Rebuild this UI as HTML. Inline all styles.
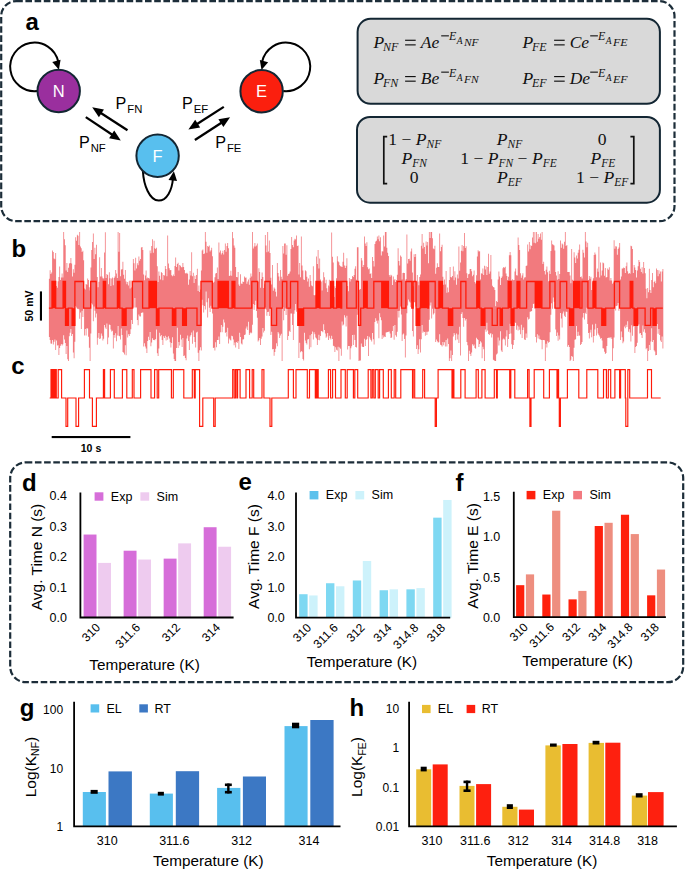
<!DOCTYPE html>
<html><head><meta charset="utf-8"><title>figure</title>
<style>
html,body{margin:0;padding:0;background:#fff;width:685px;height:870px;overflow:hidden;}
svg{display:block;}
text{font-family:"Liberation Sans",sans-serif;}
text.m{font-family:"Liberation Serif",serif;}
</style></head><body>
<svg width="685" height="870" viewBox="0 0 685 870">
<rect x="1.2" y="1.1" width="673.3" height="220.1" rx="15" ry="15" fill="none" stroke="#1c2d39" stroke-width="2.2" stroke-dasharray="6.6 2.6"/>
<rect x="10.2" y="462.4" width="673.0" height="219.80000000000007" rx="15.5" ry="15.5" fill="none" stroke="#1c2d39" stroke-width="2.2" stroke-dasharray="6.6 2.6"/>
<text x="25.5" y="29.8" font-size="24" font-weight="bold" fill="#000">a</text>
<text x="11.6" y="257.2" font-size="24" font-weight="bold" fill="#000">b</text>
<text x="11.2" y="374.2" font-size="24" font-weight="bold" fill="#000">c</text>
<text x="22.0" y="491.1" font-size="24" font-weight="bold" fill="#000">d</text>
<text x="238.6" y="489.9" font-size="24" font-weight="bold" fill="#000">e</text>
<text x="455.6" y="490.8" font-size="24" font-weight="bold" fill="#000">f</text>
<text x="19.8" y="715.6" font-size="24" font-weight="bold" fill="#000">g</text>
<text x="349.4" y="715.5" font-size="24" font-weight="bold" fill="#000">h</text>
<path d="M37.2 91 A24.3 24.3 0 1 1 58.2 61.5" fill="none" stroke="#000" stroke-width="2"/>
<polygon points="58.90,69.80 52.28,62.10 60.56,59.78" fill="#000"/>
<path d="M283.2 91 A24.3 24.3 0 1 0 262.2 61.5" fill="none" stroke="#000" stroke-width="2"/>
<polygon points="261.50,70.00 259.84,59.98 268.12,62.30" fill="#000"/>
<path d="M142.9 171 C143.6 185 149.5 200.6 158.7 200.6 C167 200.6 172 190 172.9 179" fill="none" stroke="#000" stroke-width="2"/>
<polygon points="173.90,171.20 177.05,181.05 168.51,180.02" fill="#000"/>
<circle cx="58.7" cy="91.0" r="21.2" fill="#9a2f9e" stroke="#132633" stroke-width="2"/>
<text x="58.7" y="96.9" font-size="16.5" fill="#fff" text-anchor="middle">N</text>
<circle cx="157.6" cy="155.7" r="21.2" fill="#58bfee" stroke="#132633" stroke-width="2"/>
<text x="157.6" y="161.6" font-size="16.5" fill="#fff" text-anchor="middle">F</text>
<circle cx="261.6" cy="91.2" r="21.2" fill="#fb1f0e" stroke="#132633" stroke-width="2"/>
<text x="261.6" y="97.10000000000001" font-size="16.5" fill="#fff" text-anchor="middle">E</text>
<line x1="127.5" y1="130.3" x2="98.90" y2="111.67" stroke="#000" stroke-width="2.3"/>
<polygon points="92.20,107.30 103.93,109.45 98.91,117.16" fill="#000"/>
<line x1="85.8" y1="117.1" x2="114.15" y2="136.05" stroke="#000" stroke-width="2.3"/>
<polygon points="120.80,140.50 109.10,138.21 114.21,130.56" fill="#000"/>
<line x1="223.8" y1="106.9" x2="195.14" y2="125.20" stroke="#000" stroke-width="2.3"/>
<polygon points="188.40,129.50 195.20,119.70 200.15,127.46" fill="#000"/>
<line x1="194.9" y1="140.0" x2="223.39" y2="121.55" stroke="#000" stroke-width="2.3"/>
<polygon points="230.10,117.20 223.37,127.04 218.37,119.32" fill="#000"/>
<text x="115.6" y="108.7" font-size="16.2" fill="#000">P<tspan font-size="11.3" dx="0.9" dy="4.2">FN</tspan></text>
<text x="79.0" y="147.8" font-size="16.2" fill="#000">P<tspan font-size="11.3" dx="0.9" dy="4.2">NF</tspan></text>
<text x="182.0" y="108.5" font-size="16.2" fill="#000">P<tspan font-size="11.3" dx="0.9" dy="4.2">EF</tspan></text>
<text x="215.2" y="147.8" font-size="16.2" fill="#000">P<tspan font-size="11.3" dx="0.9" dy="4.2">FE</tspan></text>
<rect x="357.6" y="18.8" width="302.3" height="85" rx="13" fill="#d9d9d9" stroke="#132633" stroke-width="2"/>
<rect x="357.0" y="116.9" width="302.9" height="85.8" rx="13" fill="#d9d9d9" stroke="#132633" stroke-width="2"/>
<text x="373.5" y="47.6" font-size="17.5" class="m" font-style="italic" fill="#111">P</text>
<text x="382.9" y="50.5" font-size="12" class="m" font-style="italic" fill="#111">NF</text>
<rect x="405.10" y="39.70" width="10.6" height="1.15" fill="#111"/><rect x="405.10" y="44.30" width="10.6" height="1.15" fill="#111"/>
<text x="420.7" y="47.6" font-size="17.5" class="m" font-style="italic" fill="#111">Ae</text>
<rect x="441.20" y="35.30" width="7.7" height="1.1" fill="#111"/>
<text x="448.9" y="40.2" font-size="12" class="m" font-style="italic" fill="#111">E</text>
<text x="456.7" y="44.4" font-size="9.5" class="m" font-style="italic" fill="#111">A</text>
<text x="464.0" y="46.4" font-size="9.5" textLength="14.6" lengthAdjust="spacingAndGlyphs" class="m" font-style="italic" fill="#111">NF</text>
<text x="373.5" y="83.9" font-size="17.5" class="m" font-style="italic" fill="#111">P</text>
<text x="382.9" y="86.80000000000001" font-size="12" class="m" font-style="italic" fill="#111">FN</text>
<rect x="405.10" y="76.00" width="10.6" height="1.15" fill="#111"/><rect x="405.10" y="80.60" width="10.6" height="1.15" fill="#111"/>
<text x="420.7" y="83.9" font-size="17.5" class="m" font-style="italic" fill="#111">Be</text>
<rect x="441.20" y="71.60" width="7.7" height="1.1" fill="#111"/>
<text x="448.9" y="76.5" font-size="12" class="m" font-style="italic" fill="#111">E</text>
<text x="456.7" y="80.7" font-size="9.5" class="m" font-style="italic" fill="#111">A</text>
<text x="464.0" y="82.7" font-size="9.5" textLength="14.6" lengthAdjust="spacingAndGlyphs" class="m" font-style="italic" fill="#111">FN</text>
<text x="522.5" y="47.6" font-size="17.5" class="m" font-style="italic" fill="#111">P</text>
<text x="531.9" y="50.5" font-size="12" class="m" font-style="italic" fill="#111">FE</text>
<rect x="554.10" y="39.70" width="10.6" height="1.15" fill="#111"/><rect x="554.10" y="44.30" width="10.6" height="1.15" fill="#111"/>
<text x="569.7" y="47.6" font-size="17.5" class="m" font-style="italic" fill="#111">Ce</text>
<rect x="590.20" y="35.30" width="7.7" height="1.1" fill="#111"/>
<text x="597.9" y="40.2" font-size="12" class="m" font-style="italic" fill="#111">E</text>
<text x="605.7" y="44.4" font-size="9.5" class="m" font-style="italic" fill="#111">A</text>
<text x="613.0" y="46.4" font-size="9.5" textLength="14.6" lengthAdjust="spacingAndGlyphs" class="m" font-style="italic" fill="#111">FE</text>
<text x="522.5" y="83.9" font-size="17.5" class="m" font-style="italic" fill="#111">P</text>
<text x="531.9" y="86.80000000000001" font-size="12" class="m" font-style="italic" fill="#111">EF</text>
<rect x="554.10" y="76.00" width="10.6" height="1.15" fill="#111"/><rect x="554.10" y="80.60" width="10.6" height="1.15" fill="#111"/>
<text x="569.7" y="83.9" font-size="17.5" class="m" font-style="italic" fill="#111">De</text>
<rect x="590.20" y="71.60" width="7.7" height="1.1" fill="#111"/>
<text x="597.9" y="76.5" font-size="12" class="m" font-style="italic" fill="#111">E</text>
<text x="605.7" y="80.7" font-size="9.5" class="m" font-style="italic" fill="#111">A</text>
<text x="613.0" y="82.7" font-size="9.5" textLength="14.6" lengthAdjust="spacingAndGlyphs" class="m" font-style="italic" fill="#111">EF</text>
<path d="M387.2 136.6 H383.8 V183.6 H387.2" fill="none" stroke="#111" stroke-width="1.7"/>
<path d="M630.4 136.6 H633.8 V183.6 H630.4" fill="none" stroke="#111" stroke-width="1.7"/>
<text x="388.2" y="145.0" font-size="17.6" class="m" fill="#111" text-anchor="start"><tspan>1 &#8722; </tspan><tspan font-style="italic">P</tspan><tspan font-style="italic" font-size="11.5" dy="2.8">NF</tspan><tspan dy="-2.8"> </tspan></text>
<text x="509.5" y="145.0" font-size="17.6" class="m" fill="#111" text-anchor="middle"><tspan font-style="italic">P</tspan><tspan font-style="italic" font-size="11.5" dy="2.8">NF</tspan><tspan dy="-2.8"> </tspan></text>
<text x="602.2" y="145.0" font-size="17.6" class="m" fill="#111" text-anchor="middle"><tspan>0</tspan></text>
<text x="414.2" y="164.1" font-size="17.6" class="m" fill="#111" text-anchor="middle"><tspan font-style="italic">P</tspan><tspan font-style="italic" font-size="11.5" dy="2.8">FN</tspan><tspan dy="-2.8"> </tspan></text>
<text x="460.2" y="164.1" font-size="17.6" class="m" fill="#111" text-anchor="start"><tspan>1 &#8722; </tspan><tspan font-style="italic">P</tspan><tspan font-style="italic" font-size="11.5" dy="2.8">FN</tspan><tspan dy="-2.8"> </tspan><tspan>&#8722; </tspan><tspan font-style="italic">P</tspan><tspan font-style="italic" font-size="11.5" dy="2.8">FE</tspan><tspan dy="-2.8"> </tspan></text>
<text x="603.0" y="164.1" font-size="17.6" class="m" fill="#111" text-anchor="middle"><tspan font-style="italic">P</tspan><tspan font-style="italic" font-size="11.5" dy="2.8">FE</tspan><tspan dy="-2.8"> </tspan></text>
<text x="414.2" y="183.2" font-size="17.6" class="m" fill="#111" text-anchor="middle"><tspan>0</tspan></text>
<text x="509.5" y="183.2" font-size="17.6" class="m" fill="#111" text-anchor="middle"><tspan font-style="italic">P</tspan><tspan font-style="italic" font-size="11.5" dy="2.8">EF</tspan><tspan dy="-2.8"> </tspan></text>
<text x="576.0" y="183.2" font-size="17.6" class="m" fill="#111" text-anchor="start"><tspan>1 &#8722; </tspan><tspan font-style="italic">P</tspan><tspan font-style="italic" font-size="11.5" dy="2.8">EF</tspan><tspan dy="-2.8"> </tspan></text>
<path d="M48.90 278.7 V278.7 H49.70 V270.2 H50.50 V274.0 H51.30 V272.4 H52.10 V250.6 H52.90 V252.1 H53.70 V258.6 H54.50 V259.3 H55.30 V252.9 H56.10 V286.0 H56.90 V287.8 H57.70 V281.2 H58.50 V276.9 H59.30 V266.4 H60.10 V280.0 H60.90 V277.5 H61.70 V273.4 H62.50 V277.4 H63.30 V232.0 H64.10 V239.2 H64.90 V245.2 H65.70 V270.6 H66.50 V263.1 H67.30 V272.0 H68.10 V267.8 H68.90 V263.4 H69.70 V262.9 H70.50 V258.1 H71.30 V263.4 H72.10 V276.4 H72.90 V269.2 H73.70 V272.7 H74.50 V264.7 H75.30 V237.2 H76.10 V240.7 H76.90 V234.8 H77.70 V235.7 H78.50 V245.1 H79.30 V232.0 H80.10 V246.4 H80.90 V248.2 H81.70 V251.9 H82.50 V250.7 H83.30 V260.2 H84.10 V288.4 H84.90 V289.5 H85.70 V283.9 H86.50 V284.8 H87.30 V278.5 H88.10 V279.9 H88.90 V287.2 H89.70 V290.4 H90.50 V267.6 H91.30 V249.9 H92.10 V241.9 H92.90 V233.5 H93.70 V258.9 H94.50 V247.8 H95.30 V254.2 H96.10 V244.7 H96.90 V277.0 H97.70 V287.3 H98.50 V281.7 H99.30 V257.3 H100.10 V276.5 H100.90 V267.9 H101.70 V276.5 H102.50 V278.3 H103.30 V278.4 H104.10 V252.4 H104.90 V232.3 H105.70 V277.9 H106.50 V274.1 H107.30 V275.0 H108.10 V284.3 H108.90 V272.2 H109.70 V278.3 H110.50 V286.1 H111.30 V278.5 H112.10 V277.4 H112.90 V285.3 H113.70 V277.9 H114.50 V276.4 H115.30 V269.9 H116.10 V273.6 H116.90 V278.0 H117.70 V232.0 H118.50 V251.8 H119.30 V232.9 H120.10 V276.3 H120.90 V269.4 H121.70 V269.3 H122.50 V261.7 H123.30 V274.8 H124.10 V278.7 H124.90 V270.0 H125.70 V281.4 H126.50 V284.3 H127.30 V282.0 H128.10 V285.5 H128.90 V280.8 H129.70 V288.6 H130.50 V280.6 H131.30 V287.6 H132.10 V285.6 H132.90 V259.1 H133.70 V263.2 H134.50 V270.5 H135.30 V257.8 H136.10 V268.5 H136.90 V263.2 H137.70 V265.2 H138.50 V256.6 H139.30 V260.7 H140.10 V259.1 H140.90 V247.5 H141.70 V247.0 H142.50 V250.0 H143.30 V274.6 H144.10 V280.2 H144.90 V275.5 H145.70 V270.5 H146.50 V278.4 H147.30 V277.5 H148.10 V278.0 H148.90 V278.5 H149.70 V250.5 H150.50 V253.3 H151.30 V245.9 H152.10 V239.3 H152.90 V252.8 H153.70 V240.8 H154.50 V248.3 H155.30 V249.1 H156.10 V247.7 H156.90 V266.2 H157.70 V282.1 H158.50 V271.4 H159.30 V275.7 H160.10 V279.4 H160.90 V271.9 H161.70 V273.1 H162.50 V280.3 H163.30 V275.1 H164.10 V275.6 H164.90 V266.0 H165.70 V269.0 H166.50 V276.2 H167.30 V235.5 H168.10 V263.6 H168.90 V268.2 H169.70 V270.2 H170.50 V270.1 H171.30 V275.2 H172.10 V276.2 H172.90 V274.4 H173.70 V276.1 H174.50 V266.1 H175.30 V257.5 H176.10 V267.1 H176.90 V264.0 H177.70 V262.8 H178.50 V270.6 H179.30 V264.9 H180.10 V265.7 H180.90 V267.3 H181.70 V267.3 H182.50 V263.1 H183.30 V266.9 H184.10 V270.0 H184.90 V273.3 H185.70 V273.6 H186.50 V272.8 H187.30 V273.8 H188.10 V284.8 H188.90 V279.5 H189.70 V270.9 H190.50 V275.5 H191.30 V252.3 H192.10 V276.3 H192.90 V272.8 H193.70 V283.1 H194.50 V275.7 H195.30 V279.0 H196.10 V274.9 H196.90 V268.7 H197.70 V290.9 H198.50 V285.6 H199.30 V292.1 H200.10 V289.4 H200.90 V270.6 H201.70 V250.4 H202.50 V249.5 H203.30 V253.9 H204.10 V253.6 H204.90 V232.0 H205.70 V241.7 H206.50 V252.7 H207.30 V246.1 H208.10 V246.7 H208.90 V245.5 H209.70 V251.4 H210.50 V250.3 H211.30 V247.8 H212.10 V256.3 H212.90 V282.7 H213.70 V281.7 H214.50 V277.2 H215.30 V273.6 H216.10 V273.1 H216.90 V267.5 H217.70 V279.1 H218.50 V242.4 H219.30 V252.4 H220.10 V250.6 H220.90 V254.6 H221.70 V253.0 H222.50 V250.8 H223.30 V254.5 H224.10 V250.0 H224.90 V243.5 H225.70 V251.8 H226.50 V246.1 H227.30 V243.1 H228.10 V248.3 H228.90 V275.9 H229.70 V275.4 H230.50 V270.7 H231.30 V275.7 H232.10 V232.0 H232.90 V238.2 H233.70 V245.4 H234.50 V247.8 H235.30 V266.9 H236.10 V276.9 H236.90 V277.3 H237.70 V271.9 H238.50 V284.4 H239.30 V286.0 H240.10 V274.2 H240.90 V283.6 H241.70 V284.1 H242.50 V281.5 H243.30 V282.1 H244.10 V276.4 H244.90 V277.7 H245.70 V277.5 H246.50 V283.8 H247.30 V281.5 H248.10 V279.6 H248.90 V284.7 H249.70 V277.7 H250.50 V273.4 H251.30 V276.4 H252.10 V232.0 H252.90 V248.6 H253.70 V246.5 H254.50 V243.1 H255.30 V246.6 H256.10 V245.6 H256.90 V243.5 H257.70 V281.8 H258.50 V268.2 H259.30 V272.1 H260.10 V287.8 H260.90 V279.1 H261.70 V272.6 H262.50 V276.9 H263.30 V288.1 H264.10 V284.2 H264.90 V235.1 H265.70 V245.5 H266.50 V252.3 H267.30 V232.0 H268.10 V251.5 H268.90 V240.4 H269.70 V253.0 H270.50 V277.8 H271.30 V284.6 H272.10 V264.9 H272.90 V290.8 H273.70 V287.5 H274.50 V288.8 H275.30 V291.7 H276.10 V296.5 H276.90 V262.9 H277.70 V273.1 H278.50 V276.6 H279.30 V280.8 H280.10 V269.9 H280.90 V276.8 H281.70 V279.2 H282.50 V246.1 H283.30 V253.5 H284.10 V243.4 H284.90 V243.4 H285.70 V254.7 H286.50 V245.3 H287.30 V275.7 H288.10 V273.9 H288.90 V273.4 H289.70 V271.6 H290.50 V248.9 H291.30 V236.9 H292.10 V245.1 H292.90 V247.3 H293.70 V240.5 H294.50 V238.8 H295.30 V239.4 H296.10 V235.5 H296.90 V246.0 H297.70 V245.6 H298.50 V274.6 H299.30 V263.0 H300.10 V277.3 H300.90 V236.5 H301.70 V265.4 H302.50 V270.4 H303.30 V279.4 H304.10 V280.0 H304.90 V270.2 H305.70 V271.3 H306.50 V276.7 H307.30 V281.5 H308.10 V278.5 H308.90 V286.7 H309.70 V275.1 H310.50 V280.9 H311.30 V285.5 H312.10 V286.3 H312.90 V266.2 H313.70 V294.9 H314.50 V295.6 H315.30 V294.8 H316.10 V256.4 H316.90 V264.0 H317.70 V250.1 H318.50 V268.6 H319.30 V258.5 H320.10 V279.4 H320.90 V281.6 H321.70 V290.4 H322.50 V280.4 H323.30 V272.3 H324.10 V277.3 H324.90 V283.2 H325.70 V279.7 H326.50 V288.3 H327.30 V291.9 H328.10 V285.6 H328.90 V279.7 H329.70 V286.6 H330.50 V287.9 H331.30 V232.4 H332.10 V256.8 H332.90 V262.6 H333.70 V296.9 H334.50 V286.2 H335.30 V288.1 H336.10 V278.3 H336.90 V256.2 H337.70 V261.2 H338.50 V262.2 H339.30 V265.3 H340.10 V266.3 H340.90 V266.4 H341.70 V267.1 H342.50 V261.7 H343.30 V252.8 H344.10 V265.6 H344.90 V267.9 H345.70 V265.7 H346.50 V258.2 H347.30 V285.9 H348.10 V291.2 H348.90 V277.9 H349.70 V281.4 H350.50 V278.9 H351.30 V279.2 H352.10 V276.1 H352.90 V276.9 H353.70 V275.1 H354.50 V268.8 H355.30 V266.3 H356.10 V279.8 H356.90 V247.3 H357.70 V247.3 H358.50 V289.4 H359.30 V289.8 H360.10 V289.0 H360.90 V257.9 H361.70 V260.5 H362.50 V267.1 H363.30 V265.1 H364.10 V236.5 H364.90 V243.4 H365.70 V246.1 H366.50 V242.2 H367.30 V267.2 H368.10 V269.3 H368.90 V268.4 H369.70 V273.9 H370.50 V273.2 H371.30 V277.9 H372.10 V257.0 H372.90 V260.9 H373.70 V266.4 H374.50 V244.0 H375.30 V241.5 H376.10 V240.8 H376.90 V236.5 H377.70 V239.3 H378.50 V235.5 H379.30 V241.3 H380.10 V237.3 H380.90 V255.6 H381.70 V251.2 H382.50 V251.4 H383.30 V235.6 H384.10 V246.6 H384.90 V232.0 H385.70 V232.0 H386.50 V247.8 H387.30 V252.8 H388.10 V256.1 H388.90 V274.9 H389.70 V276.7 H390.50 V274.7 H391.30 V275.4 H392.10 V285.0 H392.90 V276.4 H393.70 V280.2 H394.50 V278.9 H395.30 V282.0 H396.10 V280.0 H396.90 V274.7 H397.70 V248.3 H398.50 V261.1 H399.30 V265.6 H400.10 V255.4 H400.90 V256.8 H401.70 V279.4 H402.50 V272.9 H403.30 V272.8 H404.10 V273.0 H404.90 V280.7 H405.70 V278.9 H406.50 V234.5 H407.30 V263.4 H408.10 V258.9 H408.90 V258.8 H409.70 V260.8 H410.50 V251.5 H411.30 V248.6 H412.10 V272.4 H412.90 V286.2 H413.70 V254.3 H414.50 V257.0 H415.30 V254.1 H416.10 V281.4 H416.90 V275.0 H417.70 V281.4 H418.50 V285.2 H419.30 V276.9 H420.10 V274.5 H420.90 V245.7 H421.70 V234.0 H422.50 V248.6 H423.30 V242.8 H424.10 V247.0 H424.90 V254.0 H425.70 V241.5 H426.50 V245.5 H427.30 V241.9 H428.10 V263.2 H428.90 V232.0 H429.70 V238.0 H430.50 V232.0 H431.30 V232.0 H432.10 V238.2 H432.90 V248.4 H433.70 V249.3 H434.50 V245.7 H435.30 V273.7 H436.10 V267.7 H436.90 V263.2 H437.70 V267.1 H438.50 V267.1 H439.30 V233.4 H440.10 V251.3 H440.90 V246.9 H441.70 V244.8 H442.50 V276.8 H443.30 V284.8 H444.10 V279.5 H444.90 V284.4 H445.70 V271.1 H446.50 V292.7 H447.30 V287.6 H448.10 V292.2 H448.90 V279.9 H449.70 V267.1 H450.50 V277.1 H451.30 V277.6 H452.10 V275.9 H452.90 V266.6 H453.70 V280.3 H454.50 V271.2 H455.30 V277.6 H456.10 V284.7 H456.90 V274.5 H457.70 V278.5 H458.50 V246.4 H459.30 V270.8 H460.10 V262.5 H460.90 V250.7 H461.70 V245.0 H462.50 V251.3 H463.30 V246.0 H464.10 V232.9 H464.90 V247.9 H465.70 V246.2 H466.50 V273.2 H467.30 V278.1 H468.10 V274.2 H468.90 V273.7 H469.70 V269.0 H470.50 V269.1 H471.30 V271.3 H472.10 V276.2 H472.90 V274.7 H473.70 V270.5 H474.50 V281.9 H475.30 V283.4 H476.10 V275.3 H476.90 V256.4 H477.70 V250.3 H478.50 V251.4 H479.30 V251.3 H480.10 V279.5 H480.90 V273.3 H481.70 V273.7 H482.50 V268.4 H483.30 V274.9 H484.10 V265.8 H484.90 V269.4 H485.70 V266.2 H486.50 V275.0 H487.30 V267.1 H488.10 V253.7 H488.90 V273.8 H489.70 V271.5 H490.50 V254.9 H491.30 V279.3 H492.10 V285.7 H492.90 V287.0 H493.70 V287.6 H494.50 V290.0 H495.30 V306.3 H496.10 V301.1 H496.90 V302.1 H497.70 V279.5 H498.50 V271.5 H499.30 V276.4 H500.10 V285.0 H500.90 V278.1 H501.70 V276.4 H502.50 V268.3 H503.30 V267.0 H504.10 V267.8 H504.90 V266.8 H505.70 V273.5 H506.50 V276.0 H507.30 V280.1 H508.10 V276.8 H508.90 V255.3 H509.70 V251.9 H510.50 V255.3 H511.30 V280.5 H512.10 V279.3 H512.90 V280.3 H513.70 V279.9 H514.50 V271.4 H515.30 V268.4 H516.10 V275.3 H516.90 V275.6 H517.70 V237.5 H518.50 V244.9 H519.30 V249.9 H520.10 V273.2 H520.90 V277.8 H521.70 V275.5 H522.50 V273.3 H523.30 V279.4 H524.10 V277.4 H524.90 V277.3 H525.70 V266.1 H526.50 V265.5 H527.30 V244.4 H528.10 V251.6 H528.90 V242.0 H529.70 V249.2 H530.50 V245.3 H531.30 V246.0 H532.10 V237.6 H532.90 V232.0 H533.70 V242.7 H534.50 V232.0 H535.30 V243.2 H536.10 V232.0 H536.90 V241.7 H537.70 V234.1 H538.50 V238.7 H539.30 V237.0 H540.10 V233.6 H540.90 V239.7 H541.70 V232.0 H542.50 V263.9 H543.30 V261.8 H544.10 V271.1 H544.90 V274.4 H545.70 V269.8 H546.50 V266.6 H547.30 V272.3 H548.10 V281.3 H548.90 V270.7 H549.70 V274.0 H550.50 V250.9 H551.30 V240.4 H552.10 V244.3 H552.90 V244.7 H553.70 V245.5 H554.50 V250.4 H555.30 V272.1 H556.10 V275.4 H556.90 V279.7 H557.70 V271.2 H558.50 V279.1 H559.30 V274.1 H560.10 V240.4 H560.90 V247.7 H561.70 V243.5 H562.50 V244.6 H563.30 V248.8 H564.10 V241.8 H564.90 V232.0 H565.70 V246.0 H566.50 V244.9 H567.30 V272.0 H568.10 V272.0 H568.90 V271.9 H569.70 V275.6 H570.50 V283.3 H571.30 V249.1 H572.10 V279.7 H572.90 V283.4 H573.70 V252.3 H574.50 V257.4 H575.30 V262.9 H576.10 V255.5 H576.90 V258.5 H577.70 V252.7 H578.50 V249.8 H579.30 V244.4 H580.10 V276.9 H580.90 V276.5 H581.70 V278.6 H582.50 V249.8 H583.30 V252.8 H584.10 V257.5 H584.90 V232.0 H585.70 V241.5 H586.50 V247.2 H587.30 V242.7 H588.10 V279.9 H588.90 V276.1 H589.70 V278.8 H590.50 V276.8 H591.30 V290.1 H592.10 V282.3 H592.90 V278.2 H593.70 V255.0 H594.50 V252.5 H595.30 V254.5 H596.10 V277.3 H596.90 V268.4 H597.70 V271.8 H598.50 V246.8 H599.30 V277.4 H600.10 V262.5 H600.90 V275.4 H601.70 V270.4 H602.50 V262.5 H603.30 V263.2 H604.10 V275.8 H604.90 V267.9 H605.70 V277.6 H606.50 V277.1 H607.30 V268.5 H608.10 V269.8 H608.90 V267.3 H609.70 V280.6 H610.50 V277.9 H611.30 V280.5 H612.10 V283.7 H612.90 V282.5 H613.70 V240.3 H614.50 V248.8 H615.30 V246.3 H616.10 V246.4 H616.90 V254.7 H617.70 V249.0 H618.50 V247.4 H619.30 V242.9 H620.10 V279.5 H620.90 V276.5 H621.70 V268.5 H622.50 V268.6 H623.30 V267.4 H624.10 V268.0 H624.90 V272.9 H625.70 V266.2 H626.50 V262.4 H627.30 V271.3 H628.10 V273.7 H628.90 V273.1 H629.70 V273.7 H630.50 V245.7 H631.30 V246.2 H632.10 V249.0 H632.90 V273.0 H633.70 V264.9 H634.50 V267.4 H635.30 V269.9 H636.10 V277.5 H636.90 V270.5 H637.70 V266.2 H638.50 V260.1 H639.30 V262.0 H640.10 V268.7 H640.90 V272.1 H641.70 V267.2 H642.50 V273.5 H643.30 V262.1 H644.10 V268.0 H644.90 V273.3 H645.70 V288.7 H646.50 V298.2 H647.30 V288.1 H648.10 V292.3 H648.90 V268.8 H649.70 V289.9 H650.50 V292.9 H651.30 V280.0 H652.10 V273.0 H652.90 V287.3 H653.70 V282.0 H654.50 V280.7 H655.30 V283.3 H656.10 V268.6 H656.90 V270.0 H657.70 V276.3 H658.50 V270.3 H659.30 V273.8 H660.10 V271.4 H660.90 V281.6 H661.70 V271.5 H662.50 V269.0 H663.30 V348.6 H662.50 V336.5 H661.70 V342.0 H660.90 V340.5 H660.10 V335.0 H659.30 V329.1 H658.50 V333.8 H657.70 V324.1 H656.90 V354.9 H656.10 V355.2 H655.30 V351.5 H654.50 V350.3 H653.70 V340.0 H652.90 V342.0 H652.10 V328.2 H651.30 V341.5 H650.50 V350.1 H649.70 V345.1 H648.90 V350.9 H648.10 V361.0 H647.30 V348.0 H646.50 V349.2 H645.70 V332.8 H644.90 V329.2 H644.10 V331.8 H643.30 V325.4 H642.50 V338.0 H641.70 V335.1 H640.90 V332.9 H640.10 V333.4 H639.30 V324.2 H638.50 V325.2 H637.70 V342.8 H636.90 V346.1 H636.10 V347.1 H635.30 V353.1 H634.50 V324.7 H633.70 V326.4 H632.90 V335.8 H632.10 V325.3 H631.30 V341.6 H630.50 V332.5 H629.70 V329.2 H628.90 V331.7 H628.10 V321.2 H627.30 V327.0 H626.50 V324.8 H625.70 V328.2 H624.90 V326.5 H624.10 V341.4 H623.30 V343.3 H622.50 V337.3 H621.70 V331.4 H620.90 V340.1 H620.10 V305.5 H619.30 V310.7 H618.50 V303.0 H617.70 V305.4 H616.90 V305.9 H616.10 V310.5 H615.30 V306.1 H614.50 V337.6 H613.70 V348.3 H612.90 V361.0 H612.10 V338.7 H611.30 V337.0 H610.50 V338.2 H609.70 V337.4 H608.90 V337.8 H608.10 V338.0 H607.30 V345.9 H606.50 V353.0 H605.70 V353.9 H604.90 V351.8 H604.10 V348.5 H603.30 V348.3 H602.50 V340.6 H601.70 V337.9 H600.90 V338.8 H600.10 V336.4 H599.30 V335.0 H598.50 V333.4 H597.70 V328.0 H596.90 V335.5 H596.10 V323.7 H595.30 V329.6 H594.50 V336.0 H593.70 V342.4 H592.90 V324.4 H592.10 V337.2 H591.30 V329.7 H590.50 V332.4 H589.70 V338.4 H588.90 V332.9 H588.10 V324.0 H587.30 V307.8 H586.50 V313.9 H585.70 V312.8 H584.90 V319.6 H584.10 V312.9 H583.30 V317.4 H582.50 V342.0 H581.70 V344.0 H580.90 V345.1 H580.10 V335.6 H579.30 V335.8 H578.50 V331.7 H577.70 V336.0 H576.90 V326.1 H576.10 V339.2 H575.30 V339.7 H574.50 V347.7 H573.70 V361.0 H572.90 V356.8 H572.10 V356.1 H571.30 V359.7 H570.50 V361.0 H569.70 V347.0 H568.90 V344.9 H568.10 V346.7 H567.30 V312.1 H566.50 V311.6 H565.70 V317.1 H564.90 V315.7 H564.10 V311.4 H563.30 V313.5 H562.50 V327.6 H561.70 V318.5 H560.90 V312.9 H560.10 V339.6 H559.30 V335.6 H558.50 V340.7 H557.70 V332.4 H556.90 V336.1 H556.10 V329.5 H555.30 V308.2 H554.50 V301.7 H553.70 V297.5 H552.90 V308.8 H552.10 V303.2 H551.30 V314.7 H550.50 V332.2 H549.70 V342.0 H548.90 V342.8 H548.10 V341.3 H547.30 V347.5 H546.50 V343.7 H545.70 V361.0 H544.90 V340.3 H544.10 V340.0 H543.30 V340.1 H542.50 V349.2 H541.70 V340.0 H540.90 V339.6 H540.10 V339.2 H539.30 V335.6 H538.50 V338.5 H537.70 V334.2 H536.90 V342.6 H536.10 V337.1 H535.30 V308.8 H534.50 V303.4 H533.70 V303.9 H532.90 V308.0 H532.10 V311.1 H531.30 V311.5 H530.50 V311.8 H529.70 V318.8 H528.90 V319.4 H528.10 V317.3 H527.30 V337.7 H526.50 V333.6 H525.70 V340.0 H524.90 V339.5 H524.10 V327.6 H523.30 V330.1 H522.50 V337.9 H521.70 V324.7 H520.90 V334.2 H520.10 V329.7 H519.30 V326.6 H518.50 V330.4 H517.70 V325.4 H516.90 V329.7 H516.10 V323.1 H515.30 V322.3 H514.50 V340.1 H513.70 V344.9 H512.90 V349.0 H512.10 V344.2 H511.30 V333.4 H510.50 V323.7 H509.70 V333.9 H508.90 V339.0 H508.10 V347.0 H507.30 V330.2 H506.50 V336.4 H505.70 V345.6 H504.90 V339.6 H504.10 V338.5 H503.30 V339.4 H502.50 V351.9 H501.70 V350.5 H500.90 V331.3 H500.10 V340.5 H499.30 V345.6 H498.50 V337.4 H497.70 V353.6 H496.90 V354.5 H496.10 V361.0 H495.30 V361.0 H494.50 V360.3 H493.70 V359.7 H492.90 V334.2 H492.10 V337.5 H491.30 V333.2 H490.50 V333.6 H489.70 V335.1 H488.90 V333.9 H488.10 V330.6 H487.30 V322.8 H486.50 V331.7 H485.70 V329.5 H484.90 V361.0 H484.10 V349.2 H483.30 V346.7 H482.50 V358.3 H481.70 V342.6 H480.90 V341.3 H480.10 V343.9 H479.30 V347.0 H478.50 V340.0 H477.70 V339.0 H476.90 V337.8 H476.10 V348.8 H475.30 V348.0 H474.50 V344.4 H473.70 V345.7 H472.90 V344.3 H472.10 V352.4 H471.30 V356.0 H470.50 V353.9 H469.70 V350.7 H468.90 V361.0 H468.10 V345.3 H467.30 V342.0 H466.50 V319.0 H465.70 V320.6 H464.90 V317.9 H464.10 V326.8 H463.30 V318.1 H462.50 V312.2 H461.70 V314.0 H460.90 V355.4 H460.10 V326.8 H459.30 V343.1 H458.50 V334.6 H457.70 V339.5 H456.90 V333.5 H456.10 V340.3 H455.30 V334.8 H454.50 V332.9 H453.70 V336.6 H452.90 V355.0 H452.10 V360.9 H451.30 V350.5 H450.50 V358.2 H449.70 V361.0 H448.90 V343.9 H448.10 V338.4 H447.30 V346.6 H446.50 V340.1 H445.70 V346.5 H444.90 V342.3 H444.10 V345.2 H443.30 V342.0 H442.50 V346.5 H441.70 V345.2 H440.90 V344.7 H440.10 V334.2 H439.30 V342.2 H438.50 V342.6 H437.70 V341.2 H436.90 V339.6 H436.10 V341.9 H435.30 V307.5 H434.50 V313.3 H433.70 V314.4 H432.90 V308.7 H432.10 V318.6 H431.30 V302.5 H430.50 V305.5 H429.70 V319.7 H428.90 V331.5 H428.10 V331.7 H427.30 V335.1 H426.50 V331.7 H425.70 V335.8 H424.90 V331.9 H424.10 V331.5 H423.30 V332.7 H422.50 V325.1 H421.70 V339.2 H420.90 V352.6 H420.10 V339.2 H419.30 V349.3 H418.50 V354.0 H417.70 V345.2 H416.90 V349.0 H416.10 V306.5 H415.30 V302.3 H414.50 V302.3 H413.70 V336.4 H412.90 V330.9 H412.10 V301.4 H411.30 V307.0 H410.50 V302.6 H409.70 V301.4 H408.90 V299.4 H408.10 V305.4 H407.30 V313.2 H406.50 V335.4 H405.70 V357.5 H404.90 V338.9 H404.10 V333.6 H403.30 V334.5 H402.50 V341.0 H401.70 V314.6 H400.90 V306.5 H400.10 V310.7 H399.30 V317.6 H398.50 V311.1 H397.70 V331.8 H396.90 V336.7 H396.10 V335.2 H395.30 V325.0 H394.50 V339.8 H393.70 V326.1 H392.90 V331.0 H392.10 V337.4 H391.30 V337.9 H390.50 V333.5 H389.70 V331.4 H388.90 V331.7 H388.10 V331.9 H387.30 V332.2 H386.50 V332.4 H385.70 V337.1 H384.90 V336.5 H384.10 V337.4 H383.30 V335.2 H382.50 V338.9 H381.70 V320.2 H380.90 V317.3 H380.10 V313.3 H379.30 V338.2 H378.50 V320.5 H377.70 V323.4 H376.90 V320.7 H376.10 V318.3 H375.30 V322.1 H374.50 V344.5 H373.70 V339.2 H372.90 V332.9 H372.10 V341.6 H371.30 V339.9 H370.50 V338.6 H369.70 V336.7 H368.90 V355.9 H368.10 V336.0 H367.30 V339.0 H366.50 V340.0 H365.70 V345.9 H364.90 V338.8 H364.10 V346.9 H363.30 V346.9 H362.50 V346.5 H361.70 V343.6 H360.90 V360.5 H360.10 V360.4 H359.30 V361.0 H358.50 V309.5 H357.70 V314.7 H356.90 V347.5 H356.10 V346.9 H355.30 V339.9 H354.50 V334.8 H353.70 V345.1 H352.90 V334.9 H352.10 V346.2 H351.30 V348.2 H350.50 V359.4 H349.70 V345.9 H348.90 V346.1 H348.10 V349.6 H347.30 V315.8 H346.50 V326.4 H345.70 V317.4 H344.90 V315.3 H344.10 V324.5 H343.30 V325.5 H342.50 V321.4 H341.70 V355.8 H340.90 V348.8 H340.10 V347.6 H339.30 V361.0 H338.50 V346.8 H337.70 V350.5 H336.90 V349.7 H336.10 V347.2 H335.30 V352.0 H334.50 V346.2 H333.70 V345.7 H332.90 V338.9 H332.10 V335.7 H331.30 V339.4 H330.50 V338.3 H329.70 V335.8 H328.90 V340.1 H328.10 V333.1 H327.30 V336.5 H326.50 V337.8 H325.70 V333.4 H324.90 V330.1 H324.10 V324.2 H323.30 V332.3 H322.50 V331.2 H321.70 V331.1 H320.90 V336.0 H320.10 V340.2 H319.30 V334.7 H318.50 V340.0 H317.70 V345.0 H316.90 V338.5 H316.10 V337.5 H315.30 V334.3 H314.50 V332.2 H313.70 V339.4 H312.90 V331.6 H312.10 V334.0 H311.30 V347.2 H310.50 V335.3 H309.70 V349.3 H308.90 V339.1 H308.10 V339.6 H307.30 V344.6 H306.50 V342.9 H305.70 V340.4 H304.90 V332.7 H304.10 V360.6 H303.30 V358.9 H302.50 V351.7 H301.70 V351.1 H300.90 V352.3 H300.10 V342.7 H299.30 V358.0 H298.50 V308.6 H297.70 V308.9 H296.90 V311.7 H296.10 V304.0 H295.30 V310.2 H294.50 V313.7 H293.70 V339.9 H292.90 V325.0 H292.10 V313.4 H291.30 V313.6 H290.50 V332.0 H289.70 V330.7 H288.90 V336.0 H288.10 V340.0 H287.30 V306.9 H286.50 V314.9 H285.70 V308.4 H284.90 V311.1 H284.10 V320.2 H283.30 V307.0 H282.50 V361.0 H281.70 V333.8 H280.90 V335.6 H280.10 V337.9 H279.30 V333.6 H278.50 V332.1 H277.70 V346.3 H276.90 V343.3 H276.10 V348.8 H275.30 V351.9 H274.50 V355.7 H273.70 V349.1 H272.90 V349.3 H272.10 V331.7 H271.30 V335.0 H270.50 V308.4 H269.70 V316.1 H268.90 V311.7 H268.10 V312.0 H267.30 V315.7 H266.50 V309.5 H265.70 V307.5 H264.90 V330.8 H264.10 V332.6 H263.30 V328.1 H262.50 V336.4 H261.70 V338.8 H260.90 V345.1 H260.10 V337.9 H259.30 V340.3 H258.50 V341.6 H257.70 V317.8 H256.90 V311.1 H256.10 V300.8 H255.30 V305.1 H254.50 V309.8 H253.70 V304.1 H252.90 V324.8 H252.10 V333.2 H251.30 V332.3 H250.50 V333.2 H249.70 V335.0 H248.90 V321.7 H248.10 V329.9 H247.30 V326.6 H246.50 V328.4 H245.70 V334.4 H244.90 V335.0 H244.10 V339.2 H243.30 V339.5 H242.50 V344.5 H241.70 V343.5 H240.90 V337.1 H240.10 V332.7 H239.30 V349.0 H238.50 V341.2 H237.70 V343.0 H236.90 V342.0 H236.10 V347.6 H235.30 V342.4 H234.50 V345.3 H233.70 V339.6 H232.90 V336.3 H232.10 V335.7 H231.30 V340.5 H230.50 V339.7 H229.70 V338.5 H228.90 V343.5 H228.10 V327.7 H227.30 V336.4 H226.50 V332.1 H225.70 V333.0 H224.90 V322.4 H224.10 V319.6 H223.30 V326.7 H222.50 V332.2 H221.70 V325.0 H220.90 V332.3 H220.10 V343.9 H219.30 V336.5 H218.50 V340.0 H217.70 V339.9 H216.90 V347.3 H216.10 V342.3 H215.30 V350.6 H214.50 V347.4 H213.70 V348.1 H212.90 V313.5 H212.10 V308.4 H211.30 V305.7 H210.50 V311.9 H209.70 V307.8 H208.90 V298.3 H208.10 V317.4 H207.30 V302.2 H206.50 V291.6 H205.70 V309.5 H204.90 V305.9 H204.10 V312.6 H203.30 V305.2 H202.50 V299.7 H201.70 V350.4 H200.90 V347.3 H200.10 V350.2 H199.30 V361.0 H198.50 V352.8 H197.70 V331.8 H196.90 V332.5 H196.10 V347.4 H195.30 V342.1 H194.50 V336.9 H193.70 V330.5 H192.90 V343.8 H192.10 V332.4 H191.30 V335.0 H190.50 V336.6 H189.70 V350.0 H188.90 V340.9 H188.10 V335.4 H187.30 V338.4 H186.50 V360.2 H185.70 V358.1 H184.90 V355.5 H184.10 V356.1 H183.30 V337.9 H182.50 V347.0 H181.70 V339.6 H180.90 V334.8 H180.10 V345.6 H179.30 V341.9 H178.50 V348.0 H177.70 V327.8 H176.90 V348.1 H176.10 V361.0 H175.30 V361.0 H174.50 V359.1 H173.70 V353.6 H172.90 V337.3 H172.10 V343.1 H171.30 V347.6 H170.50 V342.2 H169.70 V338.4 H168.90 V336.3 H168.10 V339.7 H167.30 V337.1 H166.50 V340.5 H165.70 V335.7 H164.90 V338.1 H164.10 V336.2 H163.30 V344.9 H162.50 V340.1 H161.70 V334.9 H160.90 V336.3 H160.10 V332.8 H159.30 V348.6 H158.50 V355.9 H157.70 V353.3 H156.90 V329.5 H156.10 V339.0 H155.30 V340.3 H154.50 V339.8 H153.70 V340.0 H152.90 V338.3 H152.10 V342.5 H151.30 V346.3 H150.50 V332.1 H149.70 V340.0 H148.90 V336.7 H148.10 V340.9 H147.30 V353.0 H146.50 V348.4 H145.70 V346.5 H144.90 V343.3 H144.10 V346.6 H143.30 V312.6 H142.50 V312.6 H141.70 V313.0 H140.90 V316.5 H140.10 V316.2 H139.30 V314.4 H138.50 V325.3 H137.70 V319.9 H136.90 V307.5 H136.10 V307.6 H135.30 V298.1 H134.50 V307.6 H133.70 V308.5 H132.90 V323.9 H132.10 V320.1 H131.30 V329.3 H130.50 V334.1 H129.70 V335.9 H128.90 V334.2 H128.10 V337.6 H127.30 V330.6 H126.50 V355.2 H125.70 V345.2 H124.90 V354.5 H124.10 V352.7 H123.30 V351.9 H122.50 V334.9 H121.70 V328.4 H120.90 V339.4 H120.10 V336.3 H119.30 V335.8 H118.50 V325.9 H117.70 V335.4 H116.90 V341.2 H116.10 V333.2 H115.30 V337.8 H114.50 V335.1 H113.70 V348.5 H112.90 V330.8 H112.10 V331.4 H111.30 V329.6 H110.50 V325.1 H109.70 V324.6 H108.90 V337.6 H108.10 V344.3 H107.30 V323.6 H106.50 V329.1 H105.70 V327.6 H104.90 V324.9 H104.10 V338.8 H103.30 V340.4 H102.50 V335.8 H101.70 V333.4 H100.90 V338.5 H100.10 V339.1 H99.30 V333.1 H98.50 V337.7 H97.70 V344.7 H96.90 V313.5 H96.10 V317.5 H95.30 V310.8 H94.50 V306.5 H93.70 V321.3 H92.90 V304.4 H92.10 V303.2 H91.30 V333.5 H90.50 V361.0 H89.70 V347.7 H88.90 V336.8 H88.10 V328.6 H87.30 V328.3 H86.50 V335.6 H85.70 V329.0 H84.90 V335.5 H84.10 V308.5 H83.30 V317.1 H82.50 V310.8 H81.70 V328.9 H80.90 V312.5 H80.10 V318.7 H79.30 V309.3 H78.50 V308.8 H77.70 V308.8 H76.90 V307.4 H76.10 V306.0 H75.30 V341.8 H74.50 V358.3 H73.70 V352.4 H72.90 V333.9 H72.10 V336.0 H71.30 V329.0 H70.50 V332.7 H69.70 V336.2 H68.90 V361.0 H68.10 V359.3 H67.30 V346.0 H66.50 V354.1 H65.70 V342.9 H64.90 V339.5 H64.10 V335.3 H63.30 V344.2 H62.50 V345.6 H61.70 V344.0 H60.90 V345.7 H60.10 V348.1 H59.30 V354.9 H58.50 V345.3 H57.70 V345.6 H56.90 V340.4 H56.10 V350.1 H55.30 V339.6 H54.50 V341.8 H53.70 V344.4 H52.90 V340.0 H52.10 V343.8 H51.30 V343.5 H50.50 V340.1 H49.70 V337.1 H48.90Z" fill="#f27a7e"/>
<path d="M48.9 308.2 H52 V281.5 H55.7 V308.2 H63.1 V281.5 H65.5 V325.4 H68.3 V308.2 H72.1 V325.4 H74.9 V281.5 H83.6 V308.2 H90.7 V281.5 H96.2 V308.2 H103.3 V281.5 H105.6 V308.2 H117.4 V281.5 H119.8 V308.2 H122.2 V325.4 H126.1 V308.2 H132.4 V281.5 H142.6 V308.2 H149 V281.5 H156.4 V325.4 H159 V308.2 H172.4 V325.4 H175.8 V308.2 H182.6 V325.4 H186.4 V308.2 H197 V325.4 H201 V281.5 H212.3 V308.2 H218.1 V281.5 H228.3 V308.2 H232 V281.5 H234.9 V308.2 H251.8 V281.5 H257.6 V308.2 H264.9 V281.5 H270 V308.2 H271.5 V325.4 H276.6 V308.2 H282.4 V281.5 H286.8 V308.2 H290.5 V281.5 H297.8 V325.4 H303.6 V308.2 H316 V281.5 H320 V308.2 H330.6 V281.5 H333.6 V308.2 H336.6 V281.5 H341 V308.2 H341.7 V281.5 H346.8 V308.2 H356.3 V281.5 H358.5 V325.4 H360.7 V308.2 H363.6 V281.5 H367.2 V308.2 H373.8 V281.5 H381.1 V281.5 H388.4 V308.2 H397.2 V281.5 H401.5 V308.2 H405.9 V281.5 H411.8 V308.2 H413.2 V281.5 H416.1 V325.4 H419.8 V308.2 H420.5 V281.5 H427.9 V308.2 H428.6 V281.5 H435.2 V308.2 H438.9 V281.5 H442.5 V308.2 H448.4 V325.4 H452.7 V308.2 H460.8 V281.5 H465.9 V308.2 H476.8 V281.5 H479.7 V308.2 H481.2 V325.4 H484.9 V308.2 H492.2 V325.4 H497.3 V308.2 H500.2 V325.4 H502.4 V308.2 H508.2 V281.5 H511.1 V325.4 H514 V308.2 H517 V281.5 H519.9 V308.2 H526.6 V281.5 H534.6 V281.5 H541.9 V308.2 H549.9 V281.5 H555 V308.2 H560.1 V281.5 H566.7 V308.2 H569.6 V325.4 H573.7 V281.5 H579.9 V308.2 H582 V281.5 H587.9 V308.2 H593 V281.5 H595.9 V308.2 H601.8 V325.4 H605.7 V308.2 H614.4 V281.5 H619.6 V308.2 H630.2 V281.5 H632.8 V308.2 H634.1 V325.4 H637.6 V308.2 H645.1 V325.4 H650.6 V308.2 H653 V325.4 H656.1 V308.2 H662.8" fill="none" stroke="#ff1a0a" stroke-width="1.3"/>
<rect x="52" y="281.5" width="3.70" height="26.70" fill="#ff1a0a"/>
<rect x="63.1" y="281.5" width="2.40" height="26.70" fill="#ff1a0a"/>
<rect x="65.5" y="308.2" width="2.80" height="17.20" fill="#ff1a0a"/>
<rect x="72.1" y="308.2" width="2.80" height="17.20" fill="#ff1a0a"/>
<rect x="103.3" y="281.5" width="2.30" height="26.70" fill="#ff1a0a"/>
<rect x="117.4" y="281.5" width="2.40" height="26.70" fill="#ff1a0a"/>
<rect x="122.2" y="308.2" width="3.90" height="17.20" fill="#ff1a0a"/>
<rect x="149" y="281.5" width="7.40" height="26.70" fill="#ff1a0a"/>
<rect x="156.4" y="308.2" width="2.60" height="17.20" fill="#ff1a0a"/>
<rect x="172.4" y="308.2" width="3.40" height="17.20" fill="#ff1a0a"/>
<rect x="182.6" y="308.2" width="3.80" height="17.20" fill="#ff1a0a"/>
<rect x="218.1" y="281.5" width="10.20" height="26.70" fill="#ff1a0a"/>
<rect x="232" y="281.5" width="2.90" height="26.70" fill="#ff1a0a"/>
<rect x="297.8" y="308.2" width="5.80" height="17.20" fill="#ff1a0a"/>
<rect x="316" y="281.5" width="4.00" height="26.70" fill="#ff1a0a"/>
<rect x="330.6" y="281.5" width="3.00" height="26.70" fill="#ff1a0a"/>
<rect x="336.6" y="281.5" width="4.40" height="26.70" fill="#ff1a0a"/>
<rect x="363.6" y="281.5" width="3.60" height="26.70" fill="#ff1a0a"/>
<rect x="381.1" y="281.5" width="7.30" height="26.70" fill="#ff1a0a"/>
<rect x="416.1" y="308.2" width="3.70" height="17.20" fill="#ff1a0a"/>
<rect x="420.5" y="281.5" width="7.40" height="26.70" fill="#ff1a0a"/>
<rect x="438.9" y="281.5" width="3.60" height="26.70" fill="#ff1a0a"/>
<rect x="448.4" y="308.2" width="4.30" height="17.20" fill="#ff1a0a"/>
<rect x="476.8" y="281.5" width="2.90" height="26.70" fill="#ff1a0a"/>
<rect x="481.2" y="308.2" width="3.70" height="17.20" fill="#ff1a0a"/>
<rect x="500.2" y="308.2" width="2.20" height="17.20" fill="#ff1a0a"/>
<rect x="508.2" y="281.5" width="2.90" height="26.70" fill="#ff1a0a"/>
<rect x="511.1" y="308.2" width="2.90" height="17.20" fill="#ff1a0a"/>
<rect x="517" y="281.5" width="2.90" height="26.70" fill="#ff1a0a"/>
<rect x="534.6" y="281.5" width="7.30" height="26.70" fill="#ff1a0a"/>
<rect x="569.6" y="308.2" width="4.10" height="17.20" fill="#ff1a0a"/>
<rect x="573.7" y="281.5" width="6.20" height="26.70" fill="#ff1a0a"/>
<rect x="593" y="281.5" width="2.90" height="26.70" fill="#ff1a0a"/>
<rect x="601.8" y="308.2" width="3.90" height="17.20" fill="#ff1a0a"/>
<rect x="630.2" y="281.5" width="2.60" height="26.70" fill="#ff1a0a"/>
<rect x="634.1" y="308.2" width="3.50" height="17.20" fill="#ff1a0a"/>
<rect x="653" y="308.2" width="3.10" height="17.20" fill="#ff1a0a"/>
<rect x="39.9" y="291.4" width="2.1" height="29.2" fill="#000"/>
<text transform="translate(32.6 306) rotate(-90)" font-size="10.5" font-weight="bold" text-anchor="middle" fill="#000">50 mV</text>
<path d="M49.7 398.0 H51.0 V369.6 H52.0 V398.0 H52.6 V369.6 H53.5 V398.0 H54.1 V369.6 H55.0 V398.0 H55.5 V369.6 H56.3 V398.0 H58.2 V369.6 H61.6 V398.0 H66.0 V426.4 H67.7 V398.0 H76.0 V426.4 H78.6 V398.0 H84.4 V369.6 H89.5 V398.0 H92.4 V426.4 H96.4 V398.0 H103.4 V369.6 H104.6 V398.0 H110.4 V369.6 H114.3 V398.0 H122.4 V369.6 H126.8 V398.0 H132.3 V369.6 H134.0 V398.0 H140.6 V369.6 H151.0 V398.0 H154.6 V369.6 H157.2 V398.0 H158.7 V369.6 H171.4 V398.0 H173.3 V369.6 H183.8 V398.0 H192.3 V369.6 H194.3 V398.0 H195.2 V369.6 H199.6 V426.4 H202.8 V398.0 H213.7 V426.4 H215.2 V398.0 H232.7 V369.6 H234.2 V398.0 H235.6 V369.6 H237.0 V398.0 H237.6 V369.6 H240.1 V398.0 H246.0 V369.6 H249.6 V398.0 H252.2 V369.6 H253.7 V398.0 H262.0 V369.6 H263.9 V398.0 H270.0 V426.4 H271.8 V398.0 H288.3 V369.6 H293.4 V398.0 H296.0 V369.6 H307.3 V398.0 H309.5 V369.6 H315.3 V398.0 H316.0 V369.6 H316.8 V398.0 H317.4 V369.6 H318.2 V398.0 H328.4 V369.6 H330.6 V398.0 H332.6 V369.6 H335.5 V398.0 H341.0 V369.6 H345.3 V398.0 H347.2 V369.6 H353.4 V398.0 H354.8 V369.6 H357.7 V398.0 H368.2 V369.6 H370.9 V398.0 H372.3 V369.6 H373.8 V398.0 H375.3 V369.6 H378.2 V398.0 H379.6 V369.6 H383.3 V398.0 H388.4 V369.6 H391.3 V398.0 H394.2 V369.6 H395.7 V398.0 H400.8 V369.6 H412.5 V398.0 H413.2 V369.6 H414.7 V398.0 H422.7 V369.6 H424.6 V398.0 H435.2 V426.4 H436.4 V398.0 H438.1 V369.6 H452.0 V398.0 H453.0 V369.6 H453.9 V398.0 H460.8 V369.6 H465.1 V398.0 H476.1 V369.6 H478.3 V398.0 H481.9 V369.6 H485.1 V398.0 H494.3 V369.6 H496.5 V398.0 H497.3 V369.6 H509.7 V398.0 H510.8 V369.6 H514.8 V398.0 H527.6 V369.6 H529.1 V398.0 H529.9 V426.4 H531.0 V398.0 H534.2 V369.6 H543.7 V398.0 H549.4 V369.6 H557.0 V398.0 H557.8 V369.6 H558.6 V398.0 H559.3 V426.4 H560.4 V398.0 H567.4 V369.6 H578.8 V398.0 H586.8 V369.6 H597.8 V398.0 H603.5 V369.6 H606.4 V398.0 H608.3 V369.6 H610.7 V398.0 H614.9 V369.6 H619.6 V398.0 H620.6 V369.6 H625.3 V398.0 H625.8 V426.4 H627.8 V369.6 H629.7 V398.0 H647.5 V369.6 H651.5 V398.0 H660.7" fill="none" stroke="#ff1a0a" stroke-width="1.15"/>
<rect x="51.7" y="436.0" width="78.7" height="2.1" fill="#000"/>
<text x="91.0" y="452.4" font-size="10.5" font-weight="bold" text-anchor="middle" fill="#000">10 s</text>
<rect x="83.60" y="534.54" width="12.9" height="82.96" fill="#d66ed9"/>
<rect x="98.10" y="562.90" width="12.9" height="54.59" fill="#eecbef"/>
<text transform="translate(100.90 628.3) rotate(-45)" font-size="12" text-anchor="end" fill="#000">310</text>
<rect x="123.63" y="550.71" width="12.9" height="66.80" fill="#d66ed9"/>
<rect x="138.13" y="559.55" width="12.9" height="57.95" fill="#eecbef"/>
<text transform="translate(140.93 628.3) rotate(-45)" font-size="12" text-anchor="end" fill="#000">311.6</text>
<rect x="163.66" y="558.63" width="12.9" height="58.87" fill="#d66ed9"/>
<rect x="178.16" y="543.38" width="12.9" height="74.11" fill="#eecbef"/>
<text transform="translate(180.96 628.3) rotate(-45)" font-size="12" text-anchor="end" fill="#000">312</text>
<rect x="203.69" y="527.22" width="12.9" height="90.28" fill="#d66ed9"/>
<rect x="218.19" y="546.74" width="12.9" height="70.76" fill="#eecbef"/>
<text transform="translate(220.99 628.3) rotate(-45)" font-size="12" text-anchor="end" fill="#000">314</text>
<text x="67.0" y="622.20" font-size="12.5" text-anchor="end" fill="#000">0.0</text>
<text x="67.0" y="591.70" font-size="12.5" text-anchor="end" fill="#000">0.1</text>
<text x="67.0" y="561.20" font-size="12.5" text-anchor="end" fill="#000">0.2</text>
<text x="67.0" y="530.70" font-size="12.5" text-anchor="end" fill="#000">0.3</text>
<text x="67.0" y="500.20" font-size="12.5" text-anchor="end" fill="#000">0.4</text>
<path d="M80.4 492.5 V617.5 H233.6" fill="none" stroke="#000" stroke-width="1.8"/>
<text transform="translate(42.0 557) rotate(-90)" font-size="15.5" text-anchor="middle" fill="#000">Avg. Time N (s)</text>
<rect x="94.6" y="492.3" width="8.8" height="8.4" fill="#d66ed9"/>
<text x="110.8" y="500.7" font-size="12.5" fill="#000">Exp</text>
<rect x="140.4" y="492.3" width="8.8" height="8.4" fill="#eecbef"/>
<text x="156.6" y="500.7" font-size="12.5" fill="#000">Sim</text>
<text x="144.5" y="669.5" font-size="15.3" text-anchor="middle" fill="#000">Temperature (K)</text>
<rect x="299.20" y="594.22" width="8.4" height="23.48" fill="#7ed8f2"/>
<rect x="309.20" y="595.44" width="8.4" height="22.27" fill="#cdf2fb"/>
<text transform="translate(312.00 628.5) rotate(-45)" font-size="12" text-anchor="end" fill="#000">310</text>
<rect x="326.00" y="583.24" width="8.4" height="34.46" fill="#7ed8f2"/>
<rect x="336.00" y="586.29" width="8.4" height="31.41" fill="#cdf2fb"/>
<text transform="translate(338.80 628.5) rotate(-45)" font-size="12" text-anchor="end" fill="#000">311.6</text>
<rect x="352.80" y="580.49" width="8.4" height="37.21" fill="#7ed8f2"/>
<rect x="362.80" y="560.97" width="8.4" height="56.73" fill="#cdf2fb"/>
<text transform="translate(365.60 628.5) rotate(-45)" font-size="12" text-anchor="end" fill="#000">312</text>
<rect x="379.60" y="590.25" width="8.4" height="27.45" fill="#7ed8f2"/>
<rect x="389.60" y="589.34" width="8.4" height="28.37" fill="#cdf2fb"/>
<text transform="translate(392.40 628.5) rotate(-45)" font-size="12" text-anchor="end" fill="#000">314</text>
<rect x="406.40" y="589.34" width="8.4" height="28.37" fill="#7ed8f2"/>
<rect x="416.40" y="588.12" width="8.4" height="29.59" fill="#cdf2fb"/>
<text transform="translate(419.20 628.5) rotate(-45)" font-size="12" text-anchor="end" fill="#000">314.8</text>
<rect x="433.20" y="517.66" width="8.4" height="100.04" fill="#7ed8f2"/>
<rect x="443.20" y="499.97" width="8.4" height="117.73" fill="#cdf2fb"/>
<text transform="translate(446.00 628.5) rotate(-45)" font-size="12" text-anchor="end" fill="#000">318</text>
<text x="284.8" y="622.40" font-size="12.5" text-anchor="end" fill="#000">0.0</text>
<text x="284.8" y="591.90" font-size="12.5" text-anchor="end" fill="#000">1.0</text>
<text x="284.8" y="561.40" font-size="12.5" text-anchor="end" fill="#000">2.0</text>
<text x="284.8" y="530.90" font-size="12.5" text-anchor="end" fill="#000">3.0</text>
<text x="284.8" y="500.40" font-size="12.5" text-anchor="end" fill="#000">4.0</text>
<path d="M296.0 492.5 V617.7 H450.2" fill="none" stroke="#000" stroke-width="1.8"/>
<text transform="translate(258.8 556.5) rotate(-90)" font-size="15.5" text-anchor="middle" fill="#000">Avg. Time F (s)</text>
<rect x="309.6" y="491.0" width="8.8" height="8.4" fill="#5cc1ec"/>
<text x="325.8" y="499.4" font-size="12.5" fill="#000">Exp</text>
<rect x="355.4" y="491.0" width="8.8" height="8.4" fill="#cdf2fb"/>
<text x="371.59999999999997" y="499.4" font-size="12.5" fill="#000">Sim</text>
<text x="361.9" y="666.6" font-size="15.3" text-anchor="middle" fill="#000">Temperature (K)</text>
<rect x="516.10" y="585.18" width="8.2" height="31.92" fill="#ff200c"/>
<rect x="525.90" y="574.38" width="8.2" height="42.72" fill="#ee8e7f"/>
<text transform="translate(528.70 627.9) rotate(-45)" font-size="12" text-anchor="end" fill="#000">310</text>
<rect x="542.30" y="594.53" width="8.2" height="22.57" fill="#ff200c"/>
<rect x="552.10" y="510.71" width="8.2" height="106.39" fill="#ee8e7f"/>
<text transform="translate(554.90 627.9) rotate(-45)" font-size="12" text-anchor="end" fill="#000">311.6</text>
<rect x="568.50" y="599.37" width="8.2" height="17.73" fill="#ff200c"/>
<rect x="578.30" y="590.90" width="8.2" height="26.20" fill="#ee8e7f"/>
<text transform="translate(581.10 627.9) rotate(-45)" font-size="12" text-anchor="end" fill="#000">312</text>
<rect x="594.70" y="526.02" width="8.2" height="91.08" fill="#ff200c"/>
<rect x="604.50" y="522.80" width="8.2" height="94.30" fill="#ee8e7f"/>
<text transform="translate(607.30 627.9) rotate(-45)" font-size="12" text-anchor="end" fill="#000">314</text>
<rect x="620.90" y="514.74" width="8.2" height="102.36" fill="#ff200c"/>
<rect x="630.70" y="534.08" width="8.2" height="83.02" fill="#ee8e7f"/>
<text transform="translate(633.50 627.9) rotate(-45)" font-size="12" text-anchor="end" fill="#000">314.8</text>
<rect x="647.10" y="595.34" width="8.2" height="21.76" fill="#ff200c"/>
<rect x="656.90" y="569.55" width="8.2" height="47.55" fill="#ee8e7f"/>
<text transform="translate(659.70 627.9) rotate(-45)" font-size="12" text-anchor="end" fill="#000">318</text>
<text x="500.3" y="621.80" font-size="12.5" text-anchor="end" fill="#000">0.0</text>
<text x="500.3" y="581.50" font-size="12.5" text-anchor="end" fill="#000">0.5</text>
<text x="500.3" y="541.20" font-size="12.5" text-anchor="end" fill="#000">1.0</text>
<text x="500.3" y="500.90" font-size="12.5" text-anchor="end" fill="#000">1.5</text>
<path d="M513.8 491.8 V617.1 H665.9" fill="none" stroke="#000" stroke-width="1.8"/>
<text transform="translate(477.5 556) rotate(-90)" font-size="15.5" text-anchor="middle" fill="#000">Avg. Time E (s)</text>
<rect x="526.6" y="490.9" width="8.8" height="8.4" fill="#ff200c"/>
<text x="542.8000000000001" y="499.29999999999995" font-size="12.5" fill="#000">Exp</text>
<rect x="573.2" y="490.9" width="8.8" height="8.4" fill="#f27a80"/>
<text x="589.4000000000001" y="499.29999999999995" font-size="12.5" fill="#000">Sim</text>
<text x="577.5" y="666.4" font-size="15.3" text-anchor="middle" fill="#000">Temperature (K)</text>
<rect x="82.8" y="792.0" width="23.10" height="34.40" fill="#58bfee"/>
<rect x="108.5" y="771.4" width="23.40" height="55.00" fill="#3c78c4"/>
<text x="107.20" y="844.6" font-size="12.5" text-anchor="middle" fill="#000">310</text>
<rect x="149.8" y="793.6" width="23.10" height="32.80" fill="#58bfee"/>
<rect x="175.8" y="771.2" width="23.30" height="55.20" fill="#3c78c4"/>
<text x="174.35" y="844.6" font-size="12.5" text-anchor="middle" fill="#000">311.6</text>
<rect x="217.1" y="787.9" width="23.30" height="38.50" fill="#58bfee"/>
<rect x="242.9" y="776.5" width="23.10" height="49.90" fill="#3c78c4"/>
<text x="241.65" y="844.6" font-size="12.5" text-anchor="middle" fill="#000">312</text>
<rect x="284.5" y="726.1" width="23.10" height="100.30" fill="#58bfee"/>
<rect x="310.3" y="720.0" width="23.30" height="106.40" fill="#3c78c4"/>
<text x="308.95" y="844.6" font-size="12.5" text-anchor="middle" fill="#000">314</text>
<rect x="90.6" y="789.9" width="7.10" height="3.90" fill="#000"/>
<rect x="157.8" y="791.8" width="6.10" height="3.80" fill="#000"/>
<rect x="224.9" y="783.5" width="6.90" height="2.6" fill="#000"/>
<rect x="224.9" y="790.9" width="6.90" height="2.6" fill="#000"/>
<rect x="227.15" y="783.5" width="2.4" height="10.00" fill="#000"/>
<rect x="292.0" y="722.7" width="7.20" height="5.60" fill="#000"/>
<text x="63.1" y="714.10" font-size="12" text-anchor="end" fill="#000">100</text>
<text x="63.1" y="772.70" font-size="12" text-anchor="end" fill="#000">10</text>
<text x="63.1" y="831.00" font-size="12" text-anchor="end" fill="#000">1</text>
<path d="M74.1 701.8 V826.4 H340.5" fill="none" stroke="#000" stroke-width="1.8"/>
<rect x="90.6" y="704.3" width="8.6" height="8.2" fill="#58bfee"/>
<text x="106.39999999999999" y="712.5" font-size="12.5" fill="#000">EL</text>
<rect x="139.3" y="704.3" width="8.6" height="8.2" fill="#3c78c4"/>
<text x="154.5" y="712.5" font-size="12.5" fill="#000">RT</text>
<text transform="translate(35.6 767) rotate(-90)" font-size="15.5" text-anchor="middle" fill="#000">Log(K<tspan font-size="10.5" dy="3.5">NF</tspan><tspan dy="-3.5">)</tspan></text>
<text x="208.3" y="866.1" font-size="15.3" text-anchor="middle" fill="#000">Temperature (K)</text>
<rect x="416.2" y="769.3" width="15.00" height="57.10" fill="#e9bd31"/>
<rect x="432.7" y="764.4" width="15.00" height="62.00" fill="#fe200f"/>
<text x="431.95" y="844.6" font-size="12.5" text-anchor="middle" fill="#000">310</text>
<rect x="459.5" y="785.9" width="15.00" height="40.50" fill="#e9bd31"/>
<rect x="476.1" y="784.1" width="15.00" height="42.30" fill="#fe200f"/>
<text x="475.30" y="844.6" font-size="12.5" text-anchor="middle" fill="#000">311.6</text>
<rect x="502.3" y="806.8" width="15.20" height="19.60" fill="#e9bd31"/>
<rect x="518.9" y="809.6" width="15.10" height="16.80" fill="#fe200f"/>
<text x="518.20" y="844.6" font-size="12.5" text-anchor="middle" fill="#000">312</text>
<rect x="545.4" y="745.4" width="15.40" height="81.00" fill="#e9bd31"/>
<rect x="562.4" y="744.0" width="15.10" height="82.40" fill="#fe200f"/>
<text x="561.60" y="844.6" font-size="12.5" text-anchor="middle" fill="#000">314</text>
<rect x="588.6" y="742.9" width="15.40" height="83.50" fill="#e9bd31"/>
<rect x="605.3" y="742.7" width="15.10" height="83.70" fill="#fe200f"/>
<text x="604.65" y="844.6" font-size="12.5" text-anchor="middle" fill="#000">314.8</text>
<rect x="631.8" y="795.6" width="15.40" height="30.80" fill="#e9bd31"/>
<rect x="648.0" y="792.1" width="15.60" height="34.30" fill="#fe200f"/>
<text x="647.60" y="844.6" font-size="12.5" text-anchor="middle" fill="#000">318</text>
<rect x="420.7" y="766.7" width="6.00" height="4.70" fill="#000"/>
<rect x="463.5" y="780.6" width="7.10" height="2.6" fill="#000"/>
<rect x="463.5" y="789.4" width="7.10" height="2.6" fill="#000"/>
<rect x="465.85" y="780.6" width="2.4" height="11.40" fill="#000"/>
<rect x="506.8" y="804.2" width="6.10" height="4.80" fill="#000"/>
<rect x="550.0" y="743.5" width="6.70" height="3.20" fill="#000"/>
<rect x="592.6" y="740.8" width="6.80" height="3.70" fill="#000"/>
<rect x="635.8" y="793.2" width="6.80" height="4.30" fill="#000"/>
<text x="399.1" y="712.80" font-size="12" text-anchor="end" fill="#000">10</text>
<text x="399.1" y="752.20" font-size="12" text-anchor="end" fill="#000">1</text>
<text x="399.1" y="791.60" font-size="12" text-anchor="end" fill="#000">0.1</text>
<text x="399.1" y="831.00" font-size="12" text-anchor="end" fill="#000">0.01</text>
<path d="M409.1 701.8 V826.4 H676.9" fill="none" stroke="#000" stroke-width="1.8"/>
<rect x="422.0" y="704.9" width="8.6" height="8.2" fill="#e9bd31"/>
<text x="437.8" y="713.1" font-size="12.5" fill="#000">EL</text>
<rect x="466.6" y="704.9" width="8.6" height="8.2" fill="#fe200f"/>
<text x="481.8" y="713.1" font-size="12.5" fill="#000">RT</text>
<text transform="translate(362.3 767) rotate(-90)" font-size="15.5" text-anchor="middle" fill="#000">Log(K<tspan font-size="10.5" dy="3.5">FE</tspan><tspan dy="-3.5">)</tspan></text>
<text x="542.0" y="865.6" font-size="15.3" text-anchor="middle" fill="#000">Temperature (K)</text>
</svg>
</body></html>
